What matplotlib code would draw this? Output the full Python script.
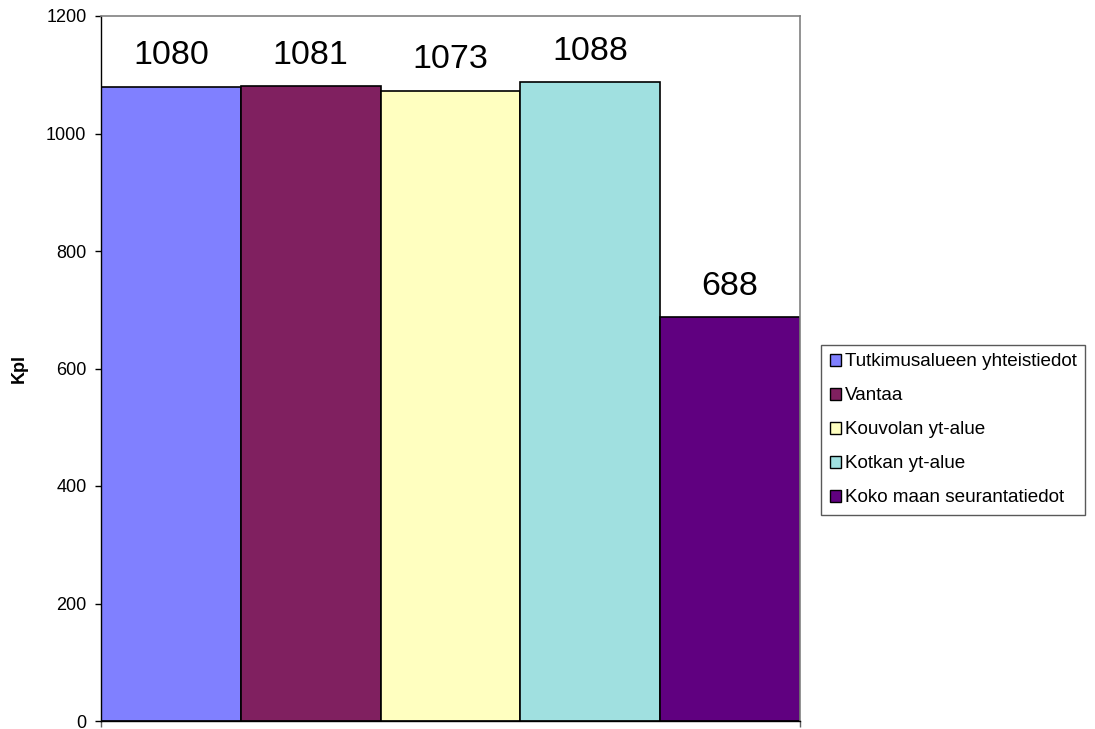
import matplotlib
matplotlib.use("Agg")
import matplotlib.pyplot as plt
from matplotlib.patches import Patch

plt.rcParams['font.family'] = ['Liberation Sans', 'DejaVu Sans']

categories = ["Tutkimusalueen yhteistiedot", "Vantaa", "Kouvolan yt-alue",
              "Kotkan yt-alue", "Koko maan seurantatiedot"]
values = [1080, 1081, 1073, 1088, 688]
colors = ["#8080FF", "#802060", "#FFFFC0", "#A0E0E0", "#600080"]
y_ticks = [0, 200, 400, 600, 800, 1000, 1200]

fig = plt.figure(figsize=(10.95, 7.29), dpi=100)
ax = fig.add_axes([101 / 1095, 1 - 721 / 729, 699 / 1095, 705 / 729])

x = list(range(len(values)))
ax.bar(x, values, width=1.0, color=colors, edgecolor="black", linewidth=1.2, zorder=2)
for xi, v in zip(x, values):
    ax.annotate(str(v), (xi, v), xytext=(0, 11), textcoords="offset points",
                ha="center", va="bottom", fontsize=24.5)

ax.set_xlim(-0.5, len(values) - 0.5)
ax.set_ylim(0, 1200)
ax.set_yticks(y_ticks)
ax.tick_params(axis="y", labelsize=13, direction="out", length=4, width=1, pad=6.5)
ax.set_xticks([-0.5, len(values) - 0.5])
ax.set_xticklabels([])
ax.tick_params(axis="x", direction="out", length=4, width=1, color="#606060")
ax.set_ylabel("Kpl", fontsize=13, fontweight="bold", labelpad=13)

for side in ("top", "right"):
    ax.spines[side].set_color("#808080")
    ax.spines[side].set_linewidth(1.2)
for side in ("left", "bottom"):
    ax.spines[side].set_color("black")
    ax.spines[side].set_linewidth(1)

handles = [Patch(facecolor=c, edgecolor="black", linewidth=1) for c in colors]
leg = fig.legend(handles, categories, loc="upper left",
                 bbox_to_anchor=(821 / 1095, 1 - 345 / 729),
                 fontsize=13.6, frameon=True, fancybox=False, borderpad=0.45,
                 labelspacing=0.9, handlelength=0.6, handleheight=0.6,
                 handletextpad=0.22, borderaxespad=0)
leg.get_frame().set_edgecolor("#303030")
leg.get_frame().set_linewidth(1)

fig.savefig("out.png", dpi=100)
